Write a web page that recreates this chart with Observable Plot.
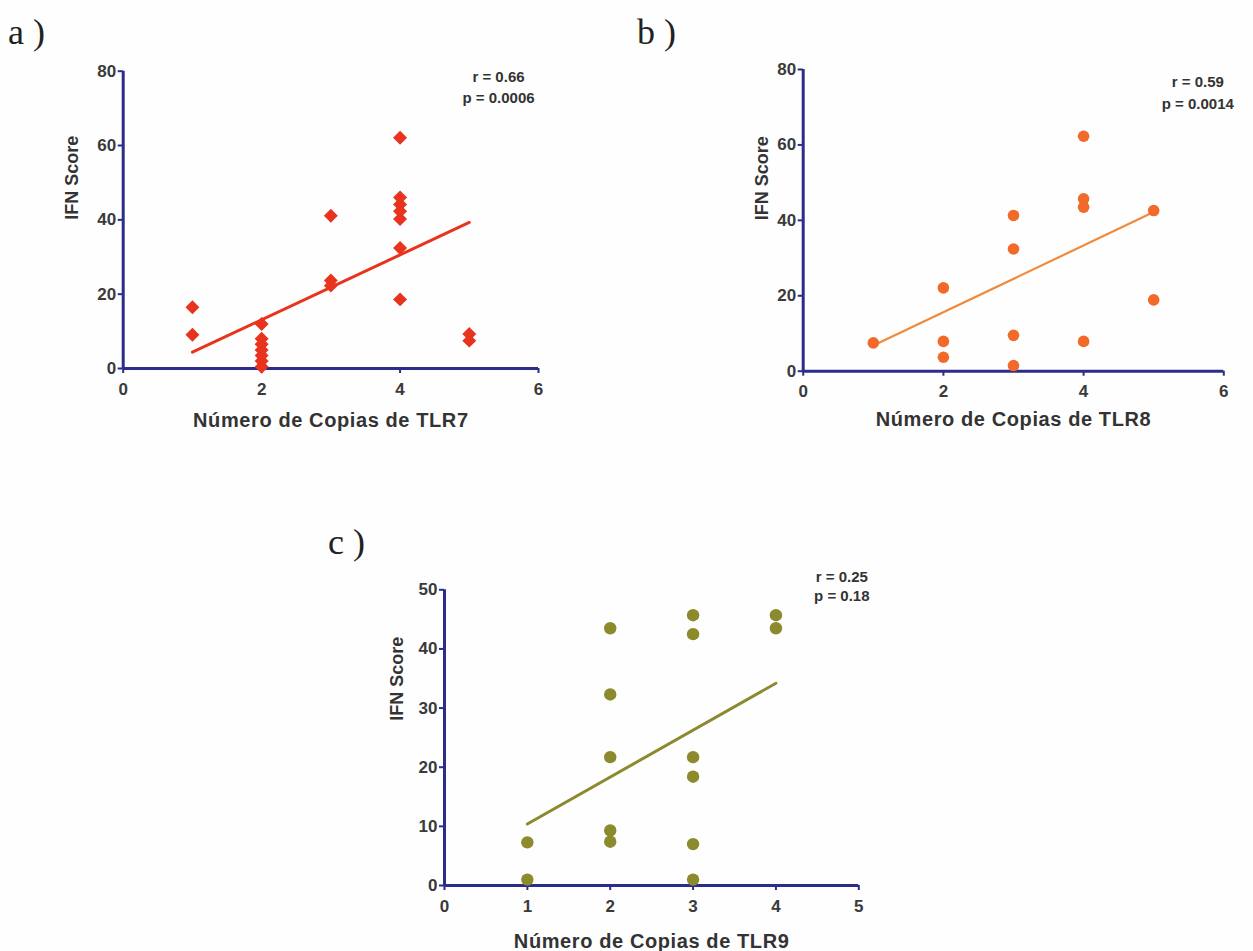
<!DOCTYPE html>
<html>
<head>
<meta charset="utf-8">
<script src="https://cdn.jsdelivr.net/npm/d3@7"></script>
<script src="https://cdn.jsdelivr.net/npm/@observablehq/plot@0.6"></script>
<style>
  html, body { margin: 0; padding: 0; background: #ffffff; }
  #root { position: relative; width: 1253px; height: 951px; overflow: hidden; background: #fefefe; }
  .panel { position: absolute; }
  .tag { position: absolute; font-family: "Liberation Serif", "DejaVu Serif", serif; font-size: 36px; color: #222; line-height: 1; }
</style>
</head>
<body>
<div id="root"></div>
<script>
// ---------- data ----------
// Panel a: TLR7
const copiesA = [1, 1, 2, 2, 2, 2, 2, 2, 2, 3, 3, 3, 4, 4, 4, 4, 4, 4, 4, 5, 5];
const ifnA    = [16.5, 9.1, 12.0, 8.0, 6.5, 5.0, 3.5, 2.0, 0.5, 41.1, 23.7, 22.3, 62.1, 46.0, 44.1, 42.3, 40.2, 32.4, 18.6, 9.3, 7.5];
const fitXA = [1, 5];
const fitYA = [4.4, 39.3];
const statsA = ["r = 0.66", "p = 0.0006"];

// Panel b: TLR8
const copiesB = [1, 2, 2, 2, 3, 3, 3, 3, 4, 4, 4, 4, 5, 5];
const ifnB    = [7.5, 22.1, 7.9, 3.7, 41.3, 32.4, 9.5, 1.5, 62.3, 45.7, 43.5, 7.9, 42.6, 18.9];
const fitXB = [1, 5];
const fitYB = [6.8, 42.2];
const statsB = ["r = 0.59", "p = 0.0014"];

// Panel c: TLR9
const copiesC = [1, 1, 2, 2, 2, 2, 2, 3, 3, 3, 3, 3, 3, 4, 4];
const ifnC    = [7.3, 1.0, 43.5, 32.3, 21.7, 9.3, 7.4, 45.7, 42.5, 21.7, 18.4, 7.0, 1.0, 45.7, 43.5];
const fitXC = [1, 4];
const fitYC = [10.4, 34.2];
const statsC = ["r = 0.25", "p = 0.18"];

const xTicksAB = [0, 2, 4, 6];
const yTicksAB = [0, 20, 40, 60, 80];
const xTicksC = [0, 1, 2, 3, 4, 5];
const yTicksC = [0, 10, 20, 30, 40, 50];

const xTitles = ["Número de Copias de TLR7", "Número de Copias de TLR8", "Número de Copias de TLR9"];
const yTitle = "IFN Score";
const tags = ["a )", "b )", "c )"];

// ---------- drawing ----------
const navy = "#2c2c8a";
const tickText = "#3a3a3a";

function panel(cfg) {
  const pts = cfg.xs.map((x, i) => ({x, y: cfg.ys[i]}));
  const fit = cfg.fx.map((x, i) => ({x, y: cfg.fy[i]}));
  const svg = Plot.plot({
    width: cfg.width, height: cfg.height,
    marginLeft: cfg.ml, marginRight: cfg.mr, marginTop: cfg.mt, marginBottom: cfg.mb,
    x: {domain: cfg.xDomain},
    y: {domain: cfg.yDomain},
    style: {fontFamily: "'Liberation Sans', Arial, sans-serif", background: "transparent", overflow: "visible"},
    marks: [
      Plot.axisX({ticks: cfg.xTicks, tickFormat: "d", tickSize: 5, tickPadding: 9, stroke: navy, strokeWidth: 2, fill: tickText, fontSize: 17, fontWeight: "bold", label: null}),
      Plot.axisY({ticks: cfg.yTicks, tickFormat: "d", tickSize: 5, tickPadding: 2, stroke: navy, strokeWidth: 2, fill: tickText, fontSize: 17, fontWeight: "bold", label: null}),
      Plot.ruleX([cfg.xDomain[0]], {stroke: navy, strokeWidth: 3}),
      Plot.ruleY([cfg.yDomain[0]], {stroke: navy, strokeWidth: 3}),
      Plot.line(fit, {x: "x", y: "y", stroke: cfg.lineColor, strokeWidth: cfg.lineWidth}),
      Plot.dot(pts, {x: "x", y: "y", fill: cfg.color, stroke: null, r: cfg.r, symbol: cfg.symbol}),
      Plot.text([cfg.xTitle], {frameAnchor: "bottom", dy: cfg.xtDy, fontSize: 20, fontWeight: "bold", fill: "#333", lineAnchor: "middle"}),
      Plot.text([yTitle], {frameAnchor: "left", rotate: -90, dx: cfg.ytDx, dy: cfg.ytDy, fontSize: 18, fontWeight: "bold", fill: "#333", lineAnchor: "middle"}),
      Plot.text([cfg.stats.join("\n")], {frameAnchor: "top-right", dx: cfg.stDx, dy: cfg.stDy, textAnchor: "middle", lineAnchor: "top", lineHeight: cfg.stLh, fontSize: 15, fontWeight: "bold", fill: "#333"})
    ]
  });
  d3.select(svg).selectAll("text").filter(function () { return this.textContent.startsWith("Número"); })
    .style("letter-spacing", "0.6px");
  const div = document.createElement("div");
  div.className = "panel";
  div.style.left = cfg.left + "px";
  div.style.top = cfg.top + "px";
  div.appendChild(svg);
  document.getElementById("root").appendChild(div);
}

function tag(text, left, top) {
  const d = document.createElement("div");
  d.className = "tag";
  d.textContent = text;
  d.style.left = left + "px";
  d.style.top = top + "px";
  document.getElementById("root").appendChild(d);
}

panel({
  left: 0, top: 0, width: 600, height: 470,
  ml: 122.7, mr: 62, mt: 70.7, mb: 102,
  xDomain: [0, 6], yDomain: [0, 80], xTicks: xTicksAB, yTicks: yTicksAB,
  xs: copiesA, ys: ifnA, fx: fitXA, fy: fitYA,
  color: "#e8341e", lineColor: "#e8341e", lineWidth: 3, r: 6.3, symbol: "diamond2",
  xTitle: xTitles[0], xtDy: 52, ytDx: -50.7, ytDy: 0,
  stats: statsA, stDx: -40, stDy: -4.4, stLh: 1.4
});

panel({
  left: 640, top: 0, width: 613, height: 470,
  ml: 162.7, mr: 29.7, mt: 69, mb: 99.3,
  xDomain: [0, 6], yDomain: [0, 80], xTicks: xTicksAB, yTicks: yTicksAB,
  xs: copiesB, ys: ifnB, fx: fitXB, fy: fitYB,
  color: "#f26a2a", lineColor: "#f08a3c", lineWidth: 2.2, r: 5.8, symbol: "circle",
  xTitle: xTitles[1], xtDy: 48.5, ytDx: -41, ytDy: 0,
  stats: statsB, stDx: -26, stDy: 2.3, stLh: 1.44
});

panel({
  left: 330, top: 500, width: 560, height: 451,
  ml: 114, mr: 31.7, mt: 89.3, mb: 66,
  xDomain: [0, 5], yDomain: [0, 50], xTicks: xTicksC, yTicks: yTicksC,
  xs: copiesC, ys: ifnC, fx: fitXC, fy: fitYC,
  color: "#8b8a2c", lineColor: "#8b8a30", lineWidth: 3, r: 6.2, symbol: "circle",
  xTitle: xTitles[2], xtDy: 56, ytDx: -47, ytDy: -17,
  stats: statsC, stDx: -17, stDy: -21.3, stLh: 1.27
});

tag(tags[0], 8, 14);
tag(tags[1], 637, 14);
tag(tags[2], 328, 524);
</script>
</body>
</html>
